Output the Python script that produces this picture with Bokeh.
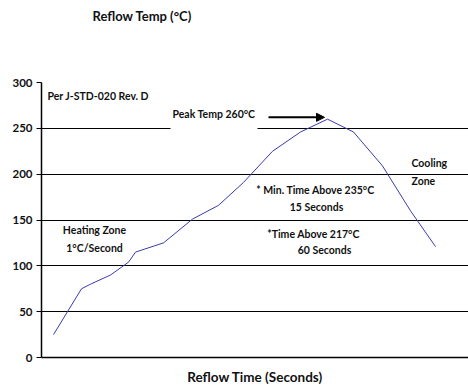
from bokeh.plotting import figure
from bokeh.models import Label, Arrow, NormalHead, FixedTicker, BoxAnnotation, Title
from bokeh.embed import file_html
from bokeh.resources import INLINE

# Reflow profile (time axis unlabeled; arbitrary seconds)
time_s = [12, 40, 49, 69, 87, 94, 122, 151, 177, 202, 231, 259, 286, 312, 341, 369, 394]
temp_c = [25, 75, 80, 90, 104, 115, 125, 151, 166, 191, 225, 246, 260, 246, 209, 160, 121]

y_ticks = [0, 50, 100, 150, 200, 250, 300]

title_text = "Reflow Temp (°C)"
x_label = "Reflow Time (Seconds)"

FONT = "Lato"

p = figure(width=468, height=387, x_range=(0, 427), y_range=(0, 300),
           output_backend="svg", toolbar_location=None,
           min_border_left=41, min_border_right=0, min_border_top=82,
           min_border_bottom=30)
p.outline_line_color = None
p.background_fill_color = "white"

# spacer between frame and title
p.add_layout(Title(text=" ", text_font_size="51px", standoff=0), "above")

p.title.text = title_text
p.title.align = "left"
p.title.offset = 51
p.title.standoff = 0
p.title.text_font = FONT
p.title.text_font_style = "bold"
p.title.text_font_size = "13px"
p.title.text_color = "#111111"

# y axis
p.yaxis.ticker = FixedTicker(ticks=y_ticks)
p.yaxis.major_tick_out = 5
p.yaxis.major_tick_in = 0
p.yaxis.minor_tick_line_color = None
p.yaxis.major_label_standoff = 4
p.yaxis.major_label_text_font = FONT
p.yaxis.major_label_text_font_style = "bold"
p.yaxis.major_label_text_font_size = "11.5px"
p.yaxis.major_label_text_color = "#111111"
p.yaxis.axis_line_color = "black"
p.yaxis.axis_line_width = 1.5
p.yaxis.major_tick_line_width = 1

# x axis
p.xaxis.ticker = FixedTicker(ticks=[])
p.xaxis.major_tick_out = 0
p.xaxis.major_tick_in = 0
p.xaxis.minor_tick_line_color = None
p.xaxis.axis_label = x_label
p.xaxis.axis_label_text_font = FONT
p.xaxis.axis_label_text_font_style = "bold"
p.xaxis.axis_label_text_font_size = "13.5px"
p.xaxis.axis_label_text_color = "#111111"
p.xaxis.axis_label_standoff = 11
p.xaxis.axis_line_width = 1.5

p.xgrid.grid_line_color = None
p.ygrid.ticker = FixedTicker(ticks=y_ticks)
p.ygrid.grid_line_color = "black"
p.ygrid.grid_line_width = 1

# white box behind the peak label (covers gridline as in original)
p.add_layout(BoxAnnotation(left=129, right=216, bottom=246, top=280,
                           fill_color="white", fill_alpha=1.0, line_color=None,
                           level="underlay"))

p.line(time_s, temp_c, line_color="#3b3bb0", line_width=1)

def lab(x, y, t, align="left"):
    p.add_layout(Label(x=x, y=y, text=t, text_align=align, text_baseline="middle",
                       text_font=FONT, text_font_style="bold", text_font_size="10.5px",
                       text_color="#111111"))

lab(6, 285, "Per J-STD-020 Rev. D")
lab(131, 266, "Peak Temp 260°C")
lab(53, 139, "Heating Zone", "center")
lab(53, 119, "1°C/Second", "center")
lab(370, 212, "Cooling")
lab(370, 193, "Zone")
lab(274, 183, "* Min. Time Above 235°C", "center")
lab(275, 164, "15 Seconds", "center")
lab(272, 135, "*Time Above 217°C", "center")
lab(283, 117, "60 Seconds", "center")

p.add_layout(Arrow(end=NormalHead(size=8, fill_color="black", line_color="black"),
                   x_start=227, y_start=262, x_end=283, y_end=262,
                   line_color="black", line_width=2))

open("out.html", "w").write(file_html(p, INLINE))
